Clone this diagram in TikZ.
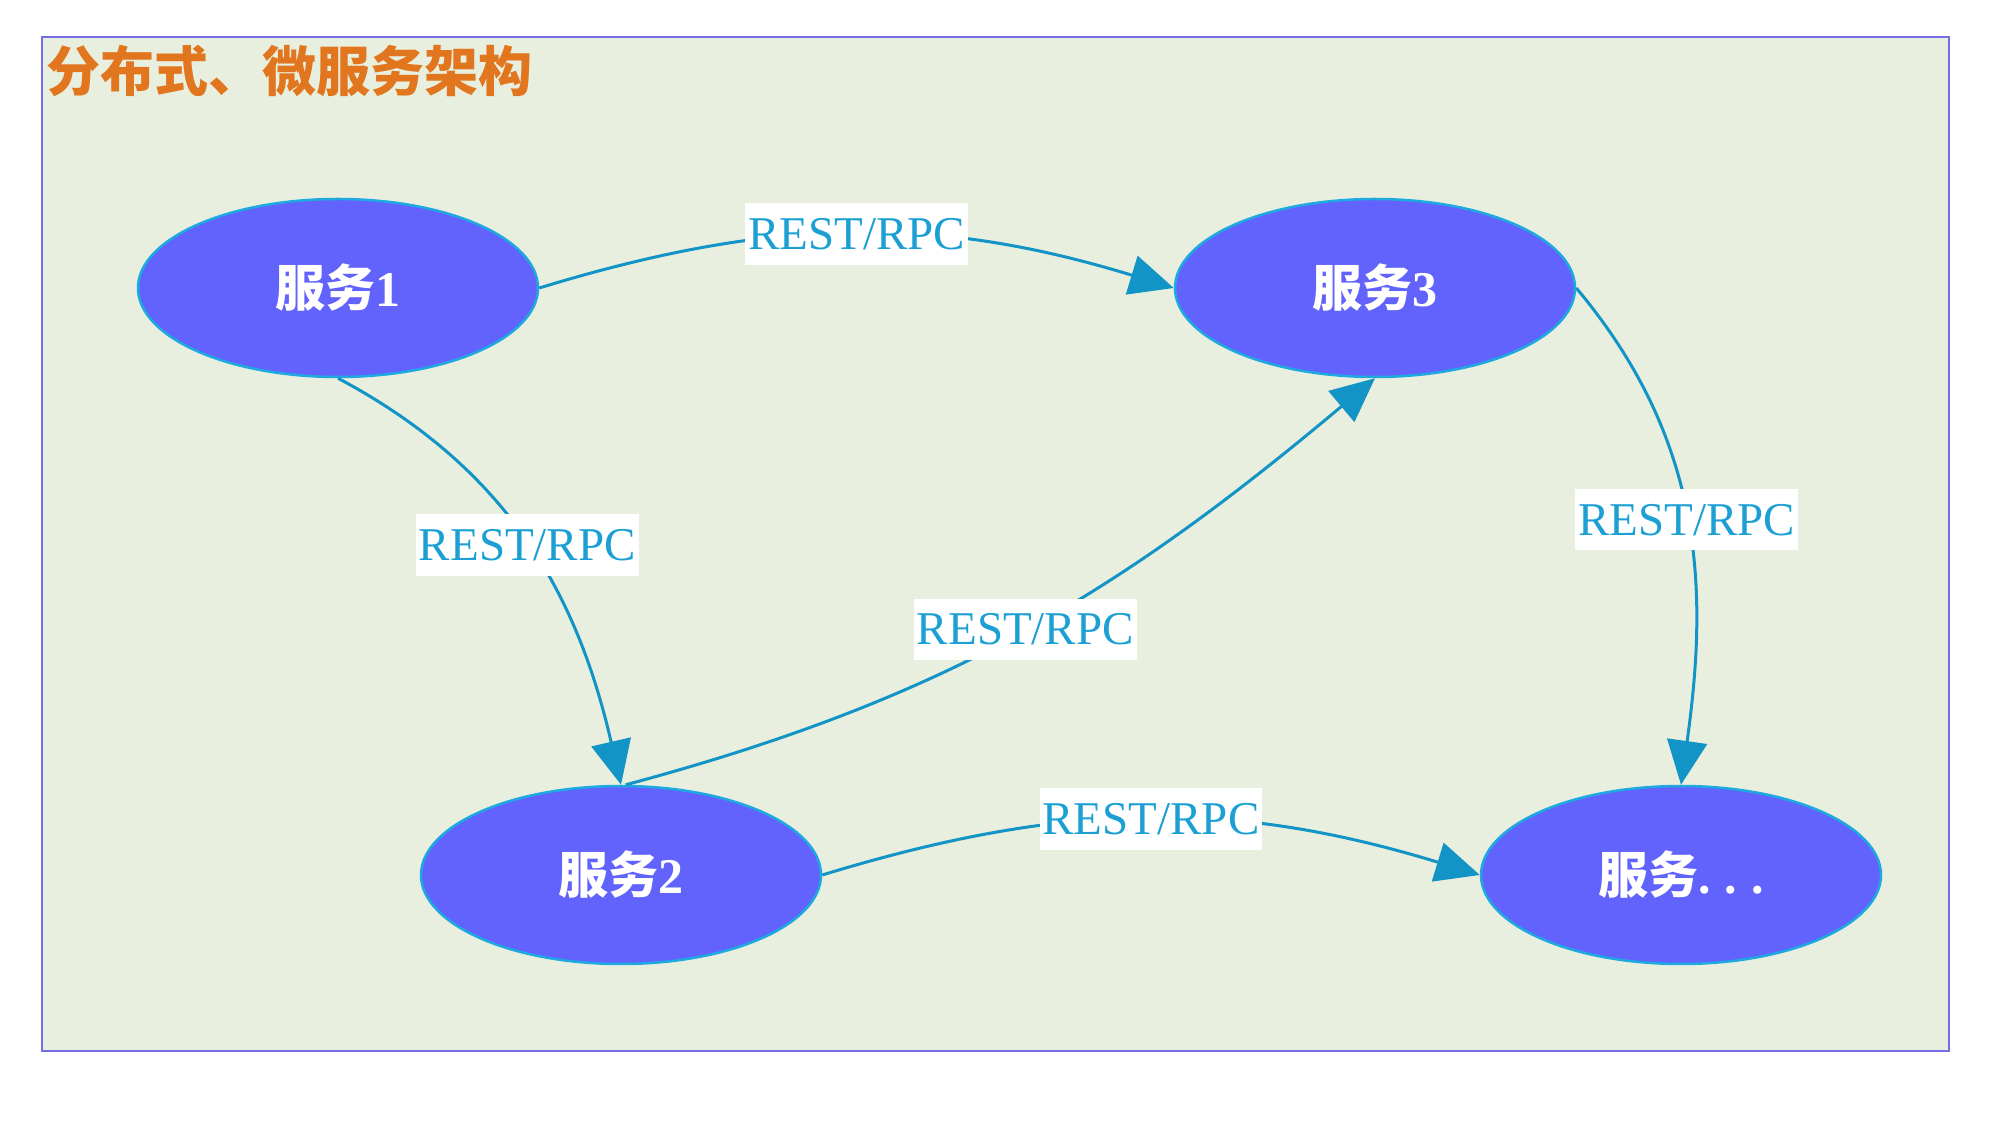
\documentclass[tikz,border=0pt]{standalone}
\usepackage{fontspec}
\setmainfont{Liberation Serif}
\newfontfamily\cjk{Noto Sans CJK SC}
\usetikzlibrary{shapes.geometric,arrows.meta}
\definecolor{bgc}{RGB}{233,239,223}
\definecolor{framec}{RGB}{115,110,225}
\definecolor{titlec}{RGB}{226,118,30}
\definecolor{nodefill}{RGB}{98,98,252}
\definecolor{nodeline}{RGB}{30,170,225}
\definecolor{edgec}{RGB}{18,148,198}
\definecolor{lblc}{RGB}{28,160,212}
\tikzset{
  svc/.style={ellipse, draw=nodeline, line width=2.5pt, fill=nodefill,
    minimum width=400pt, minimum height=178pt, inner sep=0pt,
    text=white, font=\fontsize{50}{60}\selectfont\bfseries},
  lbl/.style={fill=white, text=lblc, inner xsep=3pt, inner ysep=15pt,
    font=\fontsize{47}{56}\selectfont},
  conn/.style={draw=edgec, line width=3pt,
    -{Triangle[length=44pt,width=40pt]}},
}
\begin{document}
\begin{tikzpicture}[x=1pt,y=1pt]
\useasboundingbox (0,0) rectangle (2000,1125);
\fill[white] (0,0) rectangle (2000,1125);
\draw[draw=framec, fill=bgc, line width=2.5pt] (42,74) rectangle (1949,1088);
\node[anchor=west, text=titlec, inner sep=0pt, font=\fontsize{54}{64}\selectfont\cjk\bfseries] (title) at (46,1054) {分布式、微服务架构};

\node[svc] (n1) at (338,837) {{\cjk 服务}1};
\node[svc] (n3) at (1375,837) {{\cjk 服务}3};
\node[svc] (n2) at (621,250) {{\cjk 服务}2};
\node[svc] (n4) at (1681,250) {{\cjk 服务}.\hspace{14pt}.\hspace{14pt}.};

\draw[conn] (n1.east) to[bend left=17] node[lbl] {REST/RPC} (n3.west);
\draw[conn] (n2.east) to[bend left=17] node[lbl] {REST/RPC} (n4.west);
\draw[conn] (n1.south) to[out=-28,in=103] node[lbl] {REST/RPC} (n2.north);
\draw[conn] (n2.87) to[out=15,in=220] node[lbl] {REST/RPC} (n3.south);
\draw[conn] (n3.east) to[out=-50,in=82] node[lbl] {REST/RPC} (n4.north);
\end{tikzpicture}
\end{document}
